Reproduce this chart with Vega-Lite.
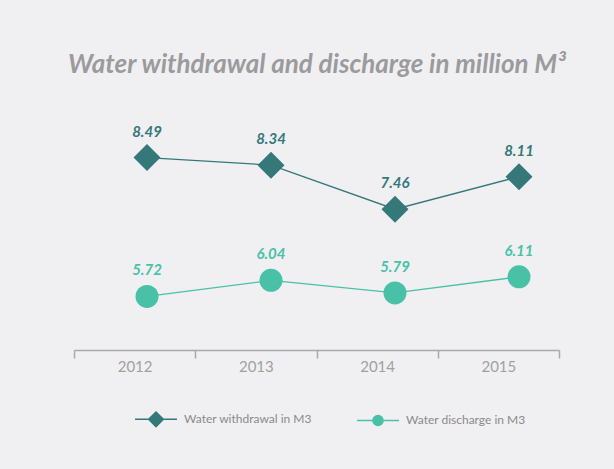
{
  "$schema": "https://vega.github.io/schema/vega-lite/v6.json",
  "width": 485,
  "height": 250,
  "autosize": {"type": "none"},
  "padding": {"left": 74, "top": 100, "right": 55, "bottom": 119},
  "background": "#f0f0f2",
  "config": {"view": {"stroke": null}},
  "title": {
    "text": "Water withdrawal and discharge in million M³",
    "font": "Lato",
    "fontSize": 26,
    "fontStyle": "italic",
    "fontWeight": "bold",
    "color": "#9b9b9d",
    "anchor": "start",
    "frame": "group",
    "baseline": "alphabetic",
    "dx": -6,
    "offset": 1
  },
  "data": {
    "values": [
      {"year": "2012", "series": "Water withdrawal in M3", "value": 8.49},
      {"year": "2013", "series": "Water withdrawal in M3", "value": 8.34},
      {"year": "2014", "series": "Water withdrawal in M3", "value": 7.46},
      {"year": "2015", "series": "Water withdrawal in M3", "value": 8.11},
      {"year": "2012", "series": "Water discharge in M3", "value": 5.72},
      {"year": "2013", "series": "Water discharge in M3", "value": 6.04},
      {"year": "2014", "series": "Water discharge in M3", "value": 5.79},
      {"year": "2015", "series": "Water discharge in M3", "value": 6.11}
    ]
  },
  "resolve": {"scale": {"x": "independent", "shape": "independent", "color": "independent", "stroke": "independent"}},
  "layer": [
    {
      "mark": {"type": "point", "opacity": 0},
      "encoding": {
        "x": {
          "field": "year", "type": "ordinal",
          "scale": {"type": "band", "paddingInner": 0, "paddingOuter": 0},
          "axis": {
            "title": null, "labelAngle": 0, "tickBand": "extent",
            "domainColor": "#a9a9a9", "domainWidth": 1.5,
            "tickColor": "#a9a9a9", "tickWidth": 1.5, "tickSize": 8,
            "labelFont": "Lato", "labelFontSize": 15, "labelColor": "#a0a0a0",
            "labelPadding": 1, "grid": false
          }
        }
      }
    },
    {
      "mark": {"type": "line", "strokeWidth": 1.3},
      "encoding": {
        "x": {"field": "year", "type": "ordinal", "scale": {"type": "point", "range": [73, 445], "padding": 0}, "axis": null},
        "y": {"field": "value", "type": "quantitative", "scale": {"domain": [4.65, 9.64], "nice": false, "zero": false}, "axis": null},
        "color": {"field": "series", "type": "nominal", "scale": {"domain": ["Water withdrawal in M3", "Water discharge in M3"], "range": ["#35787a", "#48c1a7"]}, "legend": null}
      }
    },
    {
      "mark": {"type": "point", "filled": true, "opacity": 1},
      "encoding": {
        "x": {"field": "year", "type": "ordinal", "scale": {"type": "point", "range": [73, 445], "padding": 0}, "axis": null},
        "y": {"field": "value", "type": "quantitative", "scale": {"domain": [4.65, 9.64], "nice": false, "zero": false}, "axis": null},
        "color": {"field": "series", "type": "nominal", "scale": {"domain": ["Water withdrawal in M3", "Water discharge in M3"], "range": ["#35787a", "#48c1a7"]}, "legend": null},
        "shape": {"field": "series", "type": "nominal", "scale": {"domain": ["Water withdrawal in M3", "Water discharge in M3"], "range": ["diamond", "circle"]}, "legend": null},
        "size": {"condition": {"test": "datum.series === 'Water withdrawal in M3'", "value": 729}, "value": 529}
      }
    },
    {
      "mark": {"type": "text", "font": "Lato", "fontSize": 15, "fontStyle": "italic", "fontWeight": "bold", "baseline": "alphabetic", "dy": -21},
      "encoding": {
        "x": {"field": "year", "type": "ordinal", "scale": {"type": "point", "range": [73, 445], "padding": 0}, "axis": null},
        "y": {"field": "value", "type": "quantitative", "scale": {"domain": [4.65, 9.64], "nice": false, "zero": false}, "axis": null},
        "text": {"field": "value", "type": "quantitative", "format": ".2f"},
        "color": {"field": "series", "type": "nominal", "scale": {"domain": ["Water withdrawal in M3", "Water discharge in M3"], "range": ["#35787a", "#48c1a7"]}, "legend": null}
      }
    },
    {
      "transform": [{"filter": "false"}],
      "mark": {"type": "point", "filled": true, "opacity": 1},
      "encoding": {
        "x": {"field": "year", "type": "ordinal", "scale": {"type": "point", "range": [73, 445], "padding": 0}, "axis": null},
        "y": {"field": "value", "type": "quantitative", "scale": {"domain": [4.65, 9.64], "nice": false, "zero": false}, "axis": null},
        "color": {"field": "series", "type": "nominal", "scale": {"domain": ["Water withdrawal in M3", "Water discharge in M3"], "range": ["#35787a", "#48c1a7"]},
          "legend": {
            "orient": "none", "legendX": 60, "legendY": 297, "direction": "horizontal",
            "title": null, "symbolSize": 1764, "symbolStrokeWidth": 1.5,
            "labelFont": "Lato", "labelFontSize": 12, "labelColor": "#8a8a8a",
            "labelOffset": 6, "columnPadding": 42, "padding": 0
          }
        },
        "stroke": {"field": "series", "type": "nominal", "scale": {"domain": ["Water withdrawal in M3", "Water discharge in M3"], "range": ["#35787a", "#48c1a7"]},
          "legend": {
            "orient": "none", "legendX": 60, "legendY": 297, "direction": "horizontal",
            "title": null, "symbolSize": 1764, "symbolStrokeWidth": 1.5,
            "labelFont": "Lato", "labelFontSize": 12, "labelColor": "#8a8a8a",
            "labelOffset": 6, "columnPadding": 42, "padding": 0
          }
        },
        "shape": {"field": "series", "type": "nominal", "scale": {"domain": ["Water withdrawal in M3", "Water discharge in M3"], "range": ["M-1,0H1M0,-0.35L0.35,0L0,0.35L-0.35,0Z", "M-1,0H1M0.24,0A0.24,0.24 0 1,1 -0.24,0A0.24,0.24 0 1,1 0.24,0Z"]},
          "legend": {
            "orient": "none", "legendX": 60, "legendY": 297, "direction": "horizontal",
            "title": null, "symbolSize": 1764, "symbolStrokeWidth": 1.5,
            "labelFont": "Lato", "labelFontSize": 12, "labelColor": "#8a8a8a",
            "labelOffset": 6, "columnPadding": 42, "padding": 0
          }
        }
      }
    }
  ]
}
